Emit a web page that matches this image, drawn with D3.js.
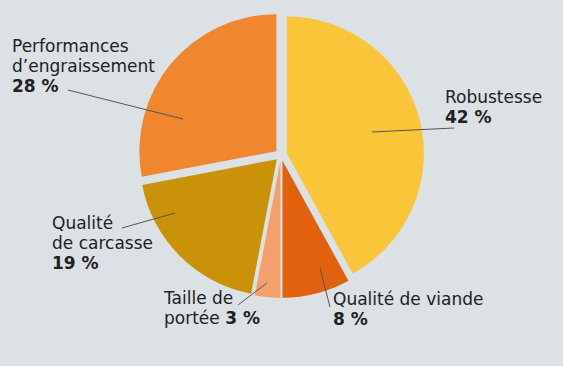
<!DOCTYPE html>
<html><head><meta charset="utf-8">
<script src="https://cdn.jsdelivr.net/npm/d3@7"></script>
<style>
html,body{margin:0;padding:0;background:#dbe1e4;}
svg{display:block;}
text{font-family:"DejaVu Sans",sans-serif;fill:#222;}
</style></head>
<body>
<svg id="c" width="563" height="366"></svg>
<script>
const categories = ["Robustesse","Qualité de viande","Taille de portée","Qualité de carcasse","Performances d’engraissement"];
const values = [42, 8, 3, 19, 28];
const colors = ["#fbc53a","#e2610f","#f3a06c","#c99208","#f0872f"];
// label text lines: [regular part, bold part]
const labelLines = [
  [["Robustesse",""],["","42 %"]],
  [["Qualité de viande",""],["","8 %"]],
  [["Taille de",""],["portée ","3 %"]],
  [["Qualité",""],["de carcasse",""],["","19 %"]],
  [["Performances",""],["d’engraissement",""],["","28 %"]]
];

// layout
const W=563,H=366, cx=281, cy=155, R=137, explode=6;
const labelPos = [[445,102.5],[333,305],[164,304],[52,229],[12,52.3]];
const leaders = [
  [[372,132],[454,128]],
  [[320,268],[330,307]],
  [[267,283],[238,305]],
  [[175,213],[122,228]],
  [[183,119],[68,90]]
];
const lineH = 20;

const svg = d3.select("#c");
svg.append("rect").attr("width",W).attr("height",H).attr("fill","#dbe1e4");

const pie = d3.pie().sort(null).value(d=>d);
const arcs = pie(values);
const arc = d3.arc().innerRadius(0).outerRadius(R);

const g = svg.append("g").attr("transform",`translate(${cx},${cy})`);
g.selectAll("path").data(arcs).enter().append("path")
  .attr("d",arc)
  .attr("fill",(d,i)=>colors[i])
  .attr("transform",d=>{
    const a=(d.startAngle+d.endAngle)/2;
    return `translate(${explode*Math.sin(a)},${-explode*Math.cos(a)})`;
  });

svg.selectAll("line.leader").data(leaders).enter().append("line")
  .attr("x1",d=>d[0][0]).attr("y1",d=>d[0][1])
  .attr("x2",d=>d[1][0]).attr("y2",d=>d[1][1])
  .attr("stroke","#555").attr("stroke-width",1);

labelLines.forEach((lines,i)=>{
  const [x,y]=labelPos[i];
  lines.forEach((ln,j)=>{
    const t = svg.append("text").attr("x",x).attr("y",y+j*lineH).style("font-size","17px");
    if(ln[0]) t.append("tspan").text(ln[0]);
    if(ln[1]) t.append("tspan").attr("font-weight","bold").text(ln[1]);
  });
});
</script>
</body></html>
